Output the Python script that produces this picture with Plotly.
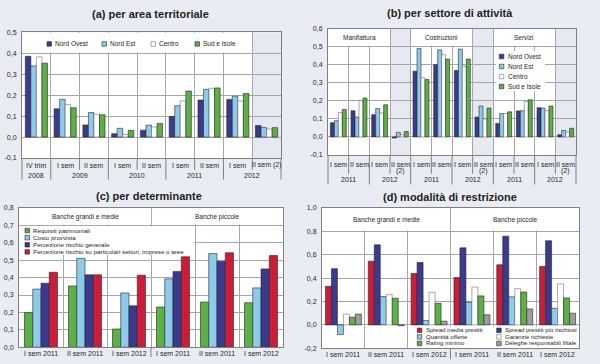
import plotly.graph_objects as go

W, H = 600, 364

# ---------------- data ----------------
# (a) per area territoriale
a_years = ["2008", "2009", "2009", "2010", "2010", "2011", "2011", "2012", "2012"]
a_periods = ["IV trim", "I sem", "II sem", "I sem", "II sem", "I sem", "II sem", "I sem", "II sem (2)"]
areas = ["Nord Ovest", "Nord Est", "Centro", "Sud e Isole"]
a_nord_ovest = [0.386, 0.135, 0.058, 0.016, 0.033, 0.098, 0.177, 0.180, 0.055]
a_nord_est = [0.340, 0.180, 0.117, 0.042, 0.057, 0.150, 0.228, 0.195, 0.046]
a_centro = [0.383, 0.155, 0.110, 0.012, 0.048, 0.173, 0.233, 0.172, 0.038]
a_sud_isole = [0.353, 0.140, 0.107, 0.032, 0.065, 0.220, 0.235, 0.208, 0.045]

# (b) per settore di attività
b_sector_col = ["Manifattura"] * 4 + ["Costruzioni"] * 4 + ["Servizi"] * 4
b_years = ["2011", "2011", "2012", "2012"] * 3
b_periods = ["I sem", "II sem", "I sem", "II sem\n(2)"] * 3
b_nord_ovest = [0.079, 0.145, 0.123, -0.006, 0.364, 0.400, 0.368, 0.110, 0.075, 0.144, 0.162, 0.012]
b_nord_est = [0.090, 0.110, 0.157, 0.025, 0.490, 0.482, 0.486, 0.171, 0.130, 0.145, 0.160, 0.036]
b_centro = [0.135, 0.202, 0.133, 0.012, 0.328, 0.455, 0.391, 0.100, 0.130, 0.196, 0.146, 0.027]
b_sud_isole = [0.152, 0.215, 0.178, 0.030, 0.318, 0.431, 0.431, 0.160, 0.139, 0.206, 0.171, 0.048]

# (c) per determinante
c_groups = ["Banche grandi e medie"] * 3 + ["Banche piccole"] * 3
c_periods = ["I sem 2011", "II sem 2011", "I sem 2012", "I sem 2011", "II sem 2011", "I sem 2012"]
c_names = ["Requisiti patrimoniali", "Costo provvista", "Percezione rischio generale",
           "Percezione rischio su particolari settori, imprese o aree"]
c_requisiti = [0.199, 0.352, 0.105, 0.231, 0.260, 0.256]
c_costo = [0.334, 0.511, 0.312, 0.393, 0.538, 0.341]
c_rischio_gen = [0.368, 0.416, 0.238, 0.435, 0.494, 0.450]
c_rischio_part = [0.431, 0.416, 0.414, 0.520, 0.543, 0.527]

# (d) modalità di restrizione
d_groups = ["Banche grandi e medie"] * 3 + ["Banche piccole"] * 3
d_periods = ["I sem 2011", "II sem 2011", "I sem 2012", "I sem 2011", "II sem 2011", "I sem 2012"]
d_names = ["Spread media prestiti", "Spread prestiti più rischiosi", "Quantità offerte",
           "Garanzie richieste", "Rating minimo", "Deleghe responsabili filiale"]
d_spread_media = [0.330, 0.545, 0.439, 0.405, 0.514, 0.500]
d_spread_rischiosi = [0.481, 0.685, 0.534, 0.659, 0.759, 0.720]
d_quantita = [-0.083, 0.242, 0.038, 0.195, 0.240, 0.142]
d_garanzie = [0.092, 0.259, 0.279, 0.324, 0.310, 0.351]
d_rating = [0.066, 0.228, 0.184, 0.248, 0.281, 0.231]
d_deleghe = [0.092, -0.007, 0.032, 0.086, 0.136, 0.100]

titles = ["(a) per area territoriale", "(b) per settore di attività",
          "(c) per determinante", "(d) modalità di restrizione"]

# ---------------- style ----------------
C_DARK = "#3a3a8f"
C_LIGHT = "#8ecbea"
C_WHITE = "#ffffff"
C_GREEN = "#5cb044"
C_RED = "#cc1d38"
C_GREY = "#9d9d9d"
BG = "#e9edf3"
SHADE = "#e6e9f1"
GRID = "#a6a6a6"
AXIS = "#808080"
TXT = "#1e1e1e"
FONT = "Liberation Sans, Arial, sans-serif"

fig = go.Figure()
shapes = []
annots = []


def aid(letter, i):
    return letter if i == 1 else f"{letter}{i}"


def aname(letter, i):
    return f"{letter}axis" if i == 1 else f"{letter}axis{i}"


def fmt(v):
    return f"{v:.1f}".replace(".", ",")


def px(p):
    return p / W


def py(p):
    return 1 - p / H


def spans(labels):
    out = []
    s = 0
    for k in range(1, len(labels) + 1):
        if k == len(labels) or labels[k] != labels[s]:
            out.append((labels[s], s, k - 1))
            s = k
    return out


def setup(i, xpx, ypx, yrange, ytv, n):
    fig.layout[aname("x", i)] = dict(
        domain=[px(xpx[0]), px(xpx[1])], range=[-0.5, n - 0.5], anchor=aid("y", i),
        tickvals=[k + 0.5 for k in range(n - 1)], showticklabels=False, ticks="",
        showgrid=True, gridcolor=GRID, gridwidth=1, zeroline=False,
        showline=True, linecolor=AXIS, linewidth=1, mirror=True, fixedrange=True)
    common = dict(range=list(yrange), tickvals=ytv, ticktext=[fmt(v) for v in ytv],
                  tickfont=dict(size=7, color=TXT, family=FONT), zeroline=False,
                  fixedrange=True, ticks="", ticklabelstandoff=3)
    fig.layout[aname("y", i)] = dict(
        domain=[py(ypx[1]), py(ypx[0])], anchor=aid("x", i), showgrid=True,
        gridcolor=GRID, gridwidth=1, showline=True, linecolor=AXIS, linewidth=1,
        mirror=True, **common)
    fig.layout[aname("y", i + 4)] = dict(
        overlaying=aid("y", i), side="right", anchor=aid("x", i), showgrid=False,
        showline=False, **common)
    return xpx, ypx


def add_bars(i, series, names, colors, frac):
    k = len(series)
    w = frac / k
    for j, (vals, name, col) in enumerate(zip(series, names, colors)):
        fig.add_trace(go.Bar(
            x=list(range(len(vals))), y=vals, name=name, width=w,
            offset=-frac / 2 + j * w,
            marker=dict(color=col, line=dict(color="#6e6e6e" if col == C_WHITE else "#262626", width=0.6)),
            xaxis=aid("x", i), yaxis=aid("y", i), showlegend=False, hoverinfo="skip"))


def xpaper(xpx, n, v):
    return px(xpx[0] + (v + 0.5) / n * (xpx[1] - xpx[0]))


def vline(x, y0, y1, color=AXIS):
    shapes.append(dict(type="rect", xref="paper", yref="paper", x0=x - 0.5 / W, x1=x + 0.5 / W,
                       y0=py(y0), y1=py(y1), fillcolor=color, line=dict(width=0),
                       layer="above"))


def rect_data(i, x0, x1, y0, y1, color, layer):
    shapes.append(dict(type="rect", xref=aid("x", i), yref=aid("y", i), x0=x0, x1=x1,
                       y0=y0, y1=y1, fillcolor=color, line=dict(width=0), layer=layer))


def shade_col(i, c):
    shapes.append(dict(type="rect", xref=aid("x", i), yref=aid("y", i) + " domain",
                       x0=c - 0.5, x1=c + 0.5, y0=0, y1=1, fillcolor=SHADE,
                       line=dict(width=0), layer="below"))


def text(x, y, t, size=7, anchor="center", bold=False, xref="paper", yref="paper"):
    annots.append(dict(x=x, y=y, xref=xref, yref=yref, text=f"<b>{t}</b>" if bold else t,
                       showarrow=False, xanchor=anchor, yanchor="middle",
                       font=dict(size=size, color=TXT, family=FONT)))


def legend(items, size):
    for name, col, sx, sy in items:
        shapes.append(dict(type="rect", xref="paper", yref="paper", x0=px(sx), x1=px(sx + 4.5),
                           y0=py(sy + 2.3), y1=py(sy - 2.3), fillcolor=col,
                           line=dict(color="#6e6e6e" if col == C_WHITE else "#262626", width=0.6),
                           layer="above"))
        text(px(sx + 6.2), py(sy), name, size=size, anchor="left")


area_colors = [C_DARK, C_LIGHT, C_WHITE, C_GREEN]

# ---------------- panel a ----------------
n = len(a_periods)
xa, ya = setup(1, (22, 281), (29, 157), (-0.1, 0.5), [-0.1, 0, 0.1, 0.2, 0.3, 0.4, 0.5], n)
add_bars(1, [a_nord_ovest, a_nord_est, a_centro, a_sud_isole], areas, area_colors, 0.77)
shaded = [k for k, p in enumerate(a_periods) if "(2)" in p]
for c in shaded:
    shade_col(1, c)
rect_data(1, -0.5, min(shaded) - 0.5 - 0.03, 0.404, 0.5, "white", "between")
for k, p in enumerate(a_periods):
    text(xpaper(xa, n, k), py(164.5), p)
for lab, s, e in spans(a_years):
    text(xpaper(xa, n, (s + e) / 2), py(174.5), lab)
for b in range(n + 1):
    v = b - 0.5
    long_ = b == 0 or b == n or a_years[b] != a_years[b - 1]
    vline(xpaper(xa, n, v), 157, 179 if long_ else 169)
text(px(150), py(10), titles[0], size=11, bold=True)
legend([(areas[0], C_DARK, 47, 40.7), (areas[1], C_LIGHT, 102, 40.7),
        (areas[2], C_WHITE, 151, 40.7), (areas[3], C_GREEN, 195, 40.7)], 6.5)

# ---------------- panel b ----------------
n = len(b_periods)
xb, yb = setup(2, (328, 576), (25, 154), (-0.1, 0.6), [-0.1, 0, 0.1, 0.2, 0.3, 0.4, 0.5, 0.6], n)
add_bars(2, [b_nord_ovest, b_nord_est, b_centro, b_sud_isole], areas, area_colors, 0.77)
for k, p in enumerate(b_periods):
    if "(2)" in p:
        shade_col(2, k)
for lab, s, e in spans(b_sector_col):
    last = e if "(2)" in b_periods[e] else e + 1
    rect_data(2, s - 0.5 + (0.03 if s > 0 else 0), last - 0.5 - 0.03, 0.505, 0.6, "white", "between")
    text((s + last - 1) / 2, 0.55, lab, size=6.5, xref=aid("x", 2), yref=aid("y", 2))
# white box behind the legend
rect_data(2, 7.63, 10.0, 0.255, 0.475, "white", "between")
for k, p in enumerate(b_periods):
    lines = p.split("\n")
    text(xpaper(xb, n, k), py(163.5), lines[0])
    if len(lines) > 1:
        text(xpaper(xb, n, k), py(170), lines[1])
b_keys = [f"{s}|{y}" for s, y in zip(b_sector_col, b_years)]
for lab, s, e in spans(b_keys):
    text(xpaper(xb, n, (s + e) / 2), py(178.5), lab.split("|")[1])
for b in range(n + 1):
    v = b - 0.5
    long_ = b == 0 or b == n or b_keys[b] != b_keys[b - 1]
    vline(xpaper(xb, n, v), 154, 184 if long_ else 173)
text(px(450), py(9.5), titles[1], size=11, bold=True)
legend([(areas[j], area_colors[j], 499.3, 53.5 + j * 10.2) for j in range(4)], 6.5)

# ---------------- panel c ----------------
n = len(c_periods)
c_colors = [C_GREEN, C_LIGHT, C_DARK, C_RED]
xc, yc = setup(3, (19, 283), (208, 350), (0, 0.8), [0, 0.1, 0.2, 0.3, 0.4, 0.5, 0.6, 0.7, 0.8], n)
add_bars(3, [c_requisiti, c_costo, c_rischio_gen, c_rischio_part], c_names, c_colors, 0.75)
c_sp = spans(c_groups)
for lab, s, e in c_sp:
    rect_data(3, s - 0.5 + (0.02 if s > 0 else 0), e + 0.5 - (0.02 if e < n - 1 else 0), 0.705, 0.8, "white", "between")
    text((s + e) / 2, 0.75, lab, size=6.5, xref=aid("x", 3), yref=aid("y", 3))
rect_data(3, -0.5, 3.47, 0.53, 0.695, "white", "between")
for k, p in enumerate(c_periods):
    text(xpaper(xc, n, k), py(356.5), p)
for lab, s, e in c_sp[1:]:
    vline(xpaper(xc, n, s - 0.5), 350, 360)
text(px(149), py(196), titles[2], size=11, bold=True)
legend([(c_names[j], c_colors[j], 25, 231 + j * 7.25) for j in range(4)], 6.2)

# ---------------- panel d ----------------
n = len(d_periods)
d_colors = [C_RED, C_DARK, C_LIGHT, C_WHITE, C_GREEN, C_GREY]
xd, yd = setup(4, (322, 579), (208, 351), (-0.2, 1.0), [-0.2, 0, 0.2, 0.4, 0.6, 0.8, 1.0], n)
add_bars(4, [d_spread_media, d_spread_rischiosi, d_quantita, d_garanzie, d_rating, d_deleghe],
         d_names, d_colors, 0.84)
d_sp = spans(d_groups)
for lab, s, e in d_sp:
    rect_data(4, s - 0.5 + (0.02 if s > 0 else 0), e + 0.5 - (0.02 if e < n - 1 else 0), 0.81, 1.0, "white", "between")
    text((s + e) / 2, 0.9, lab, size=6.5, xref=aid("x", 4), yref=aid("y", 4))
rect_data(4, 1.62, 5.5, -0.2, -0.015, "white", "between")
for k, p in enumerate(d_periods):
    text(xpaper(xd, n, k), py(357.5), p)
for lab, s, e in d_sp[1:]:
    vline(xpaper(xd, n, s - 0.5), 351, 362)
text(px(450), py(197), titles[3], size=11, bold=True)
d_leg = []
for j in range(6):
    col_x = 417.3 if j % 2 == 0 else 496.7
    d_leg.append((d_names[j], d_colors[j], col_x, 332.7 + (j // 2) * 6.7))
legend(d_leg, 6.0)

fig.update_layout(
    width=W, height=H, margin=dict(l=0, r=0, t=0, b=0),
    paper_bgcolor=BG, plot_bgcolor="white", barmode="overlay",
    showlegend=False, shapes=shapes, annotations=annots,
    font=dict(family=FONT, size=7, color=TXT),
)
fig.write_html(
    "out.html",
    config={"displayModeBar": False, "staticPlot": True},
    post_script="document.body.style.margin='0';document.body.style.padding='0';"
                "document.body.style.overflow='hidden';",
)
